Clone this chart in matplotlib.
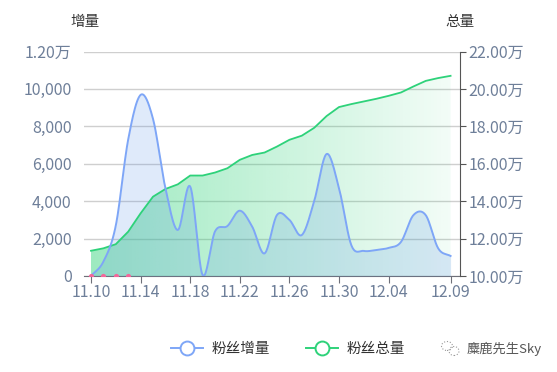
import numpy as np
import matplotlib
matplotlib.use("Agg")
import matplotlib.pyplot as plt
from matplotlib.lines import Line2D
from matplotlib.patches import Polygon, Ellipse
from matplotlib.ticker import FuncFormatter

plt.rcParams['font.family'] = ['Noto Sans CJK SC', 'DejaVu Sans']

# fechas 11.10 -> 12.09
fechas = ['11.%02d' % d for d in range(10, 31)] + ['12.%02d' % d for d in range(1, 10)]
etiquetas_idx = [0, 4, 8, 12, 16, 20, 24, 29]

# 粉丝增量 (por dia)
incremento = [0, 770, 2700, 7300, 9680, 8400, 4700, 2460, 4780, 50,
              2380, 2670, 3490, 2640, 1210, 3260, 3000, 2190, 4000, 6520,
              4700, 1640, 1340, 1390, 1500, 1820, 3250, 3250, 1480, 1070]

# 粉丝总量 (en 万)
total_wan = [11.35, 11.48, 11.70, 12.37, 13.35, 14.24, 14.65, 14.90, 15.37, 15.37,
             15.53, 15.76, 16.21, 16.47, 16.60, 16.92, 17.28, 17.50, 17.92, 18.55,
             19.03, 19.19, 19.33, 19.47, 19.63, 19.81, 20.13, 20.43, 20.58, 20.70]

# puntos rosas al inicio
puntos_rosas_idx = [0, 1, 2, 3]

azul = '#7ea6f7'
verde = '#2ed27a'
gris_txt = '#6e7f99'


def suavizar(y, n=20):
    # curva tipo catmull-rom pasando por todos los puntos
    y = np.asarray(y, float)
    x = np.arange(len(y), dtype=float)
    m = np.zeros_like(y)
    m[1:-1] = (y[2:] - y[:-2]) / 2
    m[0] = y[1] - y[0]
    m[-1] = y[-1] - y[-2]
    xs, ys = [], []
    for i in range(len(y) - 1):
        t = np.linspace(0, 1, n, endpoint=False)
        h00 = 2*t**3 - 3*t**2 + 1
        h10 = t**3 - 2*t**2 + t
        h01 = -2*t**3 + 3*t**2
        h11 = t**3 - t**2
        xs.append(x[i] + t)
        ys.append(h00*y[i] + h10*m[i] + h01*y[i+1] + h11*m[i+1])
    xs.append([x[-1]])
    ys.append([y[-1]])
    return np.concatenate(xs), np.clip(np.concatenate(ys), 0, None)


fig = plt.figure(figsize=(5.57, 3.72), dpi=100)
ax = fig.add_axes([84/557, 96/372, 376/557, 224.5/372])
ax2 = ax.twinx()

x = np.arange(len(fechas))
xlim = (-0.565, 29.76)
ax.set_xlim(*xlim)
ax.set_ylim(0, 12000)
ax2.set_ylim(100000, 220000)

# rejilla
for v in range(0, 12001, 2000):
    ax.axhline(v, color='#cfcfcf', lw=1, zorder=0)

# area verde con degradado horizontal (en ax2)
total = np.array(total_wan) * 10000
grad = np.zeros((1, 256, 4))
grad[..., 0] = 46 / 255
grad[..., 1] = 210 / 255
grad[..., 2] = 120 / 255
grad[..., 3] = np.linspace(0.47, 0.06, 256)
img = ax2.imshow(grad, extent=[0, 29, 100000, 220000], aspect='auto', zorder=2)
poly = Polygon(np.column_stack([np.r_[x, x[::-1]], np.r_[total, np.full(len(x), 100000)]]),
               closed=True, transform=ax2.transData, facecolor='none', edgecolor='none')
ax2.add_patch(poly)
img.set_clip_path(poly)
ax2.plot(x, total, color=verde, lw=1.3, zorder=3)

# area y linea azul encima
xs, ys = suavizar(incremento)
ys2 = ys / 12000 * 120000 + 100000
ax2.fill_between(xs, 100000, ys2, color=(80/255, 140/255, 230/255), alpha=0.18, lw=0, zorder=2.5)
ax2.plot(xs, ys2, color=azul, lw=1.4, zorder=4)
ax2.scatter(puntos_rosas_idx, [100000]*len(puntos_rosas_idx), s=14, color='#f4669a', zorder=5, lw=0)
ax2.set_xlim(*xlim)
ax2.set_ylim(100000, 220000)

# ejes
for s in ['top', 'left', 'right']:
    ax.spines[s].set_visible(False)
ax.spines['bottom'].set_color('#6e7079')
for s in ['top', 'left', 'bottom']:
    ax2.spines[s].set_visible(False)
ax2.spines['right'].set_color('#555555')

ax.set_xticks(etiquetas_idx)
ax.set_xticklabels([fechas[i] for i in etiquetas_idx])
ax.tick_params(axis='x', colors='#6e7079', labelcolor=gris_txt, labelsize=11.5, length=5, pad=1)
ax.set_yticks(range(0, 12001, 2000))
ax.yaxis.set_major_formatter(FuncFormatter(lambda v, p: '1.20万' if v >= 12000 else f'{int(v):,}'))
ax.tick_params(axis='y', length=0, labelcolor=gris_txt, labelsize=11.5, pad=9)

ax2.set_yticks(range(100000, 220001, 20000))
ax2.yaxis.set_major_formatter(FuncFormatter(lambda v, p: f'{v/10000:.2f}万'))
ax2.tick_params(axis='y', colors='#555555', labelcolor=gris_txt, labelsize=11.5, length=4, pad=2)

fig.text(85/557, 1 - 22/372, '增量', ha='center', va='center', fontsize=10.5, color='#333333')
fig.text(460/557, 1 - 22/372, '总量', ha='center', va='center', fontsize=10.5, color='#333333')

# leyenda
h1 = Line2D([], [], color=azul, lw=1.4, marker='o', markersize=10, markerfacecolor='white', markeredgewidth=1.4)
h2 = Line2D([], [], color=verde, lw=1.4, marker='o', markersize=10, markerfacecolor='white', markeredgewidth=1.4)
fig.legend([h1, h2], ['粉丝增量', '粉丝总量'], loc='center', bbox_to_anchor=(288/557, 1 - 349/372),
           ncol=2, frameon=False, fontsize=10.5, handlelength=2.2, columnspacing=2.4,
           labelcolor='#333333', handletextpad=0.6)

# marca de agua
fig.text(467/557, 1 - 349/372, '麋鹿先生Sky', ha='left', va='center', fontsize=9.5, color='#555555')
fig.patches.append(Ellipse((447/557, 1 - 346/372), 11/557, 9/372, transform=fig.transFigure,
                           fill=False, ec='#999999', lw=0.8, ls=':'))
fig.patches.append(Ellipse((454/557, 1 - 351/372), 10/557, 9/372, transform=fig.transFigure,
                           fill=False, ec='#999999', lw=0.8, ls=':'))

fig.savefig('out.png', dpi=100)
